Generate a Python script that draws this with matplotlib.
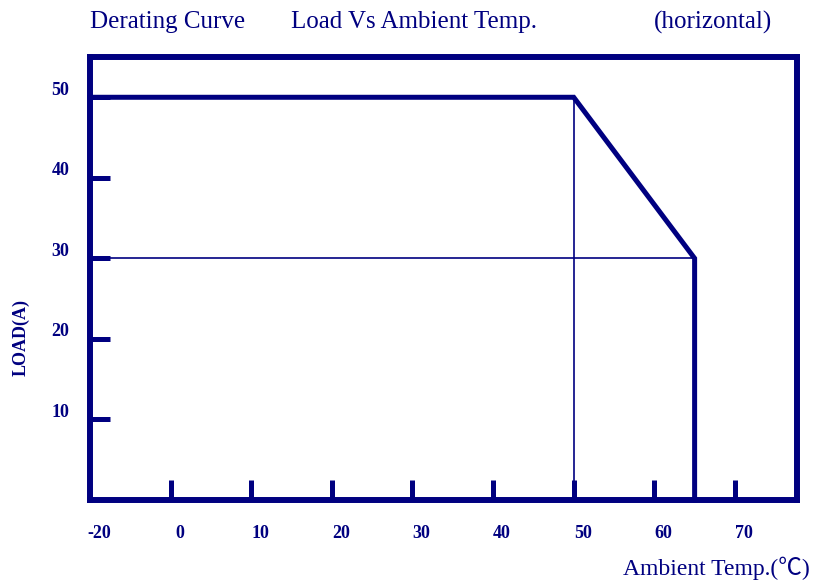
import matplotlib
matplotlib.use('Agg')
import matplotlib.pyplot as plt
import matplotlib.transforms as mtransforms

navy = '#000080'

# derating curve: load (A) vs ambient temperature
temp = [-10, 50, 65, 65]
load = [50, 50, 30, 0]

# thin guide lines
guide_v_x = [50, 50]
guide_v_y = [0, 50]
guide_h_x = [-10, 65]
guide_h_y = [30, 30]

xticks = [-10, 0, 10, 20, 30, 40, 50, 60, 70]
xlabels = ['-20', '0', '10', '20', '30', '40', '50', '60', '70']
yticks = [10, 20, 30, 40, 50]
ylabels = ['10', '20', '30', '40', '50']

fig = plt.figure(figsize=(8.24, 5.8), dpi=100)
ax = fig.add_axes([90/824, 1-500/580, (797-90)/824, (500-57)/580])

ax.plot(guide_v_x, guide_v_y, color=navy, lw=1.2)
ax.plot(guide_h_x, guide_h_y, color=navy, lw=1.2)
ax.plot(temp, load, color=navy, lw=3.6, solid_joinstyle='miter', clip_on=False)

ax.set_xlim(-10, 77.7)
ax.set_ylim(0, 55)

for s in ax.spines.values():
    s.set_linewidth(4.3)
    s.set_color(navy)
    s.set_capstyle('projecting')

ax.set_xticks(xticks)
ax.set_xticklabels(xlabels, fontfamily='Liberation Serif', fontweight='bold', fontsize=13, color=navy)
ax.set_yticks(yticks)
ax.set_yticklabels(ylabels, fontfamily='Liberation Serif', fontweight='bold', fontsize=13, color=navy)
ax.tick_params(axis='both', direction='in', length=14.5, width=3.6, color=navy)
ax.tick_params(axis='x', pad=18)
ax.tick_params(axis='y', pad=15)
ax.xaxis.get_major_ticks()[0].tick1line.set_visible(False)

# labels sit a little off their ticks, as in the original
dx = mtransforms.ScaledTranslation(9/100, 0, fig.dpi_scale_trans)
for lab in ax.get_xticklabels():
    lab.set_transform(lab.get_transform() + dx)
dy = mtransforms.ScaledTranslation(0, 9/100, fig.dpi_scale_trans)
for lab in ax.get_yticklabels():
    lab.set_transform(lab.get_transform() + dy)

fig.text(90/824, 1-22/580, 'Derating Curve', fontfamily='Liberation Serif', fontsize=18,
         color=navy, va='center', ha='left')
fig.text(291/824, 1-22/580, 'Load Vs Ambient Temp.', fontfamily='Liberation Serif', fontsize=18,
         color=navy, va='center', ha='left')
fig.text(772/824, 1-22/580, '(horizontal)', fontfamily='Liberation Serif', fontsize=18,
         color=navy, va='center', ha='right')
fig.text(810/824, 1-568/580, 'Ambient Temp.(℃)', fontfamily=['Liberation Serif', 'Noto Sans CJK SC'],
         fontsize=17, color=navy, va='center', ha='right')
fig.text(21/824, 1-337/580, 'LOAD(A)', fontfamily='Liberation Serif', fontweight='bold', fontsize=13,
         color=navy, va='center', ha='center', rotation=90)

fig.savefig('out.png', dpi=100)
